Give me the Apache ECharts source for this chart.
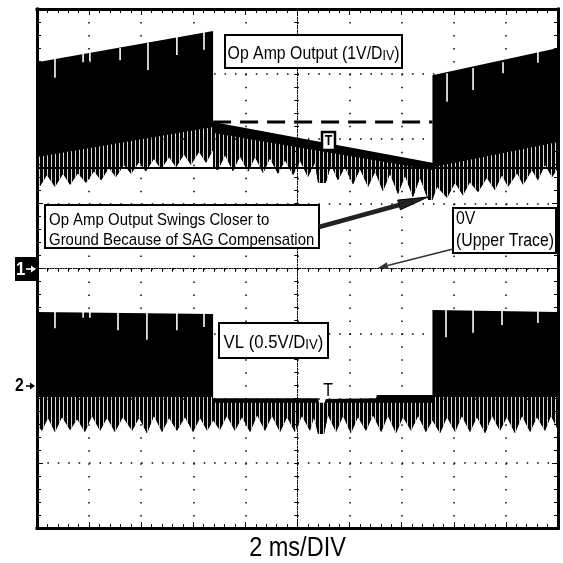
<!DOCTYPE html>
<html>
<head>
<meta charset="utf-8">
<script src="https://cdn.jsdelivr.net/npm/echarts@6/dist/echarts.min.js"></script>
<style>
html,body{margin:0;padding:0;background:#fff}
#scope{width:563px;height:563px}
</style>
</head>
<body>
<div id="scope"></div>
<script>
// time in ms from screen centre (2 ms/div), level in divisions from centre line
var timeMin = -10, timeMax = 10, timeStep = 2;
var levelMin = -4, levelMax = 4, levelStep = 1;

// upper trace: op amp output (1V/div), ch1 ground on centre line
var upperTop = [[-10.00, 3.18], [-3.24, 3.66], [-3.24, 2.26], [5.18, 1.63], [5.18, 2.98], [10.00, 3.40]];
var upperStripeTop = [[-10.00, 1.72], [-3.24, 2.18], [-3.24, 2.09], [5.18, 1.52], [5.18, 1.56], [10.00, 1.95]];
var upperBottom = [
    [-10.00, 1.36], [-9.88, 1.27], [-9.62, 1.44], [-9.31, 1.26], [-9.00, 1.46], [-8.73, 1.29], [-8.43, 1.47],
    [-8.12, 1.32], [-7.81, 1.50], [-7.54, 1.36], [-7.24, 1.55], [-6.97, 1.41], [-6.66, 1.60], [-6.39, 1.46],
    [-6.08, 1.64], [-5.82, 1.50], [-5.51, 1.69], [-5.24, 1.53], [-4.93, 1.72], [-4.66, 1.56], [-4.36, 1.76],
    [-4.09, 1.60], [-3.78, 1.80], [-3.51, 1.63], [-3.24, 1.83],
    [-3.24, 1.55], [-3.05, 1.52], [-2.78, 1.75], [-2.48, 1.50], [-2.21, 1.73], [-1.90, 1.49], [-1.63, 1.72],
    [-1.32, 1.47], [-1.06, 1.70], [-0.75, 1.46], [-0.48, 1.67], [-0.17, 1.44], [0.10, 1.66], [0.40, 1.41],
    [0.67, 1.63], [0.79, 1.32], [1.09, 1.32], [1.29, 1.60], [1.55, 1.36], [1.82, 1.56], [2.13, 1.30],
    [2.40, 1.53], [2.71, 1.26], [2.98, 1.49], [3.28, 1.19], [3.55, 1.46], [3.86, 1.15], [4.13, 1.43],
    [4.43, 1.10], [4.70, 1.40], [5.01, 1.06], [5.18, 1.06],
    [5.36, 1.26], [5.74, 1.09], [6.05, 1.32], [6.35, 1.13], [6.62, 1.33], [6.93, 1.18], [7.27, 1.40],
    [7.58, 1.21], [7.85, 1.44], [8.08, 1.26], [8.43, 1.47], [8.66, 1.29], [9.00, 1.52], [9.23, 1.36],
    [9.50, 1.60], [9.77, 1.41], [10.00, 1.55]
];
// short dropouts hanging from the top edge: [time, from, to]
var upperDropouts = [[-9.31, 3.24, 2.94], [-8.23, 3.33, 3.18], [-7.97, 3.35, 3.18], [-6.81, 3.40, 3.21],
    [-5.74, 3.48, 3.06], [-4.63, 3.57, 3.29], [-3.59, 3.65, 3.37],
    [5.74, 3.01, 2.57], [6.74, 3.09, 2.75], [7.89, 3.18, 3.01], [9.23, 3.34, 3.17]];

// lower trace: VL (0.5V/div), ch2 marker at -1.83 div
var lowerTop = [[-10.00, -0.67], [-3.24, -0.70], [-3.24, -2.00], [0.79, -2.00], [0.90, -2.21], [1.09, -2.01],
    [3.01, -2.00], [3.05, -1.95], [5.18, -1.95], [5.18, -0.64], [10.00, -0.67]];
var lowerStripeTop = [[-10.00, -1.98], [-3.24, -1.98], [-3.24, -2.07], [5.18, -2.07], [5.18, -1.98], [10.00, -1.98]];
var lowerBottom = [
    [-10.00, -2.41], [-9.81, -2.50], [-9.58, -2.30], [-9.31, -2.52], [-9.04, -2.29], [-8.73, -2.49], [-8.46, -2.32],
    [-8.16, -2.52], [-7.89, -2.27], [-7.58, -2.50], [-7.31, -2.30], [-7.01, -2.52], [-6.70, -2.29], [-6.35, -2.50],
    [-6.08, -2.30], [-5.78, -2.54], [-5.51, -2.27], [-5.20, -2.52], [-4.93, -2.30], [-4.63, -2.50], [-4.32, -2.29],
    [-4.01, -2.52], [-3.74, -2.30], [-3.47, -2.50], [-3.24, -2.34],
    [-2.98, -2.49], [-2.71, -2.27], [-2.40, -2.50], [-2.13, -2.29], [-1.82, -2.52], [-1.55, -2.26], [-1.25, -2.50],
    [-0.98, -2.27], [-0.67, -2.52], [-0.40, -2.29], [-0.10, -2.52], [0.17, -2.27], [0.48, -2.50], [0.63, -2.29],
    [0.79, -2.55], [1.02, -2.55], [1.17, -2.26], [1.48, -2.52], [1.75, -2.27], [2.05, -2.54], [2.32, -2.29],
    [2.63, -2.50], [2.90, -2.26], [3.21, -2.52], [3.47, -2.27], [3.78, -2.54], [4.05, -2.29], [4.36, -2.50],
    [4.63, -2.27], [4.93, -2.52], [5.18, -2.34],
    [5.47, -2.54], [5.74, -2.29], [6.05, -2.52], [6.31, -2.27], [6.62, -2.52], [6.89, -2.29], [7.20, -2.54],
    [7.47, -2.27], [7.77, -2.50], [8.04, -2.29], [8.35, -2.54], [8.62, -2.27], [8.93, -2.52], [9.19, -2.29],
    [9.50, -2.50], [9.73, -2.27], [10.00, -2.49]
];
var lowerDropouts = [[-9.31, -0.67, -0.92], [-8.23, -0.67, -0.76], [-7.97, -0.67, -0.76], [-6.89, -0.67, -0.95],
    [-5.78, -0.68, -1.10], [-4.63, -0.68, -0.95], [-3.59, -0.69, -0.90],
    [5.70, -0.64, -1.06], [6.74, -0.64, -0.99], [7.85, -0.64, -0.87], [9.23, -0.66, -0.84]];

// reference lines drawn on the upper trace
var dashedRef = [[-3.24, 2.26], [5.18, 2.26]];
var solidRef = 1.56;

var face = '"Liberation Sans",Arial,sans-serif';
var squeeze = 0.88;   // the scope font is a condensed sans

// fine vertical stripes for the switching ripple
var stripe = document.createElement('canvas');
stripe.width = 4; stripe.height = 4;
var sctx = stripe.getContext('2d');
sctx.fillStyle = '#000'; sctx.fillRect(0, 0, 4, 4);
sctx.fillStyle = '#d8d8d8'; sctx.fillRect(3, 0, 1, 4);

function band(top, bottom, fill) {
    return function (params, api) {
        var pts = top.map(function (p) { return api.coord(p); });
        for (var i = bottom.length - 1; i >= 0; i--) pts.push(api.coord(bottom[i]));
        return { type: 'polygon', shape: { points: pts }, style: { fill: fill } };
    };
}
function dropout(params, api) {
    var a = api.coord([api.value(0), api.value(1)]);
    var b = api.coord([api.value(0), api.value(2)]);
    return { type: 'line', shape: { x1: a[0], y1: a[1], x2: b[0], y2: b[1] }, style: { stroke: '#fff', lineWidth: 1.6 } };
}

function centreX(tickInside) {
    return {
        type: 'value', min: timeMin, max: timeMax, interval: timeStep, z: 3,
        axisLine: { show: true, onZero: true, lineStyle: { color: '#000', width: 1, type: [1, 1.6] } },
        axisTick: { show: true, inside: tickInside, length: 3, lineStyle: { color: '#000' } },
        minorTick: { show: true, splitNumber: 5, length: 3, lineStyle: { color: '#000' } },
        axisLabel: { show: false },
        splitLine: { show: false }
    };
}
function centreY(tickInside) {
    return {
        type: 'value', min: levelMin, max: levelMax, interval: levelStep, z: 3,
        axisLine: { show: true, onZero: true, lineStyle: { color: '#000', width: 1, type: [1, 1.6] } },
        axisTick: { show: true, inside: tickInside, length: 3, lineStyle: { color: '#000' } },
        minorTick: { show: true, splitNumber: 5, length: 3, lineStyle: { color: '#000' } },
        axisLabel: { show: false },
        splitLine: { show: false }
    };
}
function frameAxis(isX, pos) {
    return {
        type: 'value', position: pos, z: 6,
        min: isX ? timeMin : levelMin, max: isX ? timeMax : levelMax, interval: isX ? timeStep : levelStep,
        axisLine: { show: true, onZero: false, lineStyle: { color: '#000', width: 3, cap: 'square' } },
        axisTick: { show: true, inside: true, length: 6, lineStyle: { color: '#000' } },
        minorTick: { show: true, splitNumber: 5, length: 4, lineStyle: { color: '#000' } },
        axisLabel: { show: false },
        splitLine: { show: false }
    };
}

var xMain = centreX(false);
xMain.splitLine = { show: true, lineStyle: { color: '#000', width: 1.5, type: [1.5, 11.475] } };
var yMain = centreY(false);
yMain.splitLine = { show: true, lineStyle: { color: '#000', width: 1.5, type: [1.5, 8.92] } };

function label(txt, x, y, size, align, extra) {
    var st = { text: txt, x: 0, y: 0, fill: '#000', fontSize: size, fontFamily: face,
        textAlign: align || 'left', textVerticalAlign: 'middle' };
    for (var k in extra || {}) st[k] = extra[k];
    return { type: 'text', z: 11, x: x, y: y, scaleX: squeeze, style: st };
}
function smallCaps(pre, size) {
    return {
        text: '{a|' + pre + 'D}{b|IV}{a|)}',
        rich: { a: { fontSize: size, fontFamily: face, color: '#000', lineHeight: size + 4, verticalAlign: 'bottom' },
                b: { fontSize: size - 4, fontFamily: face, color: '#000', lineHeight: size + 8, verticalAlign: 'bottom' } }
    };
}
function box(x, y, w, h) {
    return { type: 'rect', z: 10, shape: { x: x, y: y, width: w, height: h }, style: { fill: '#fff', stroke: '#000', lineWidth: 2 } };
}
function pointer(x1, x2, y, colour) {
    return [
        { type: 'line', z: 12, shape: { x1: x1, y1: y, x2: x2 - 4, y2: y }, style: { stroke: colour, lineWidth: 1.6 } },
        { type: 'polygon', z: 12, shape: { points: [[x2, y], [x2 - 5, y - 3.5], [x2 - 5, y + 3.5]] }, style: { fill: colour } }
    ];
}

var graphics = [
    // channel markers
    { type: 'rect', shape: { x: 15, y: 257, width: 22, height: 24 }, style: { fill: '#000' }, z: 10 },
    label('1', 16, 270, 19, 'left', { fill: '#fff', fontWeight: 'bold' }),
    label('2', 15, 386, 18, 'left', { fontWeight: 'bold' }),
    // trigger marks
    { type: 'rect', z: 10, shape: { x: 322, y: 132, width: 13, height: 18 }, style: { fill: '#fff', stroke: '#000', lineWidth: 2.5 } },
    label('T', 328.5, 141.5, 14, 'center', { fontWeight: 'bold' }),
    label('T', 328, 391, 18, 'center'),
    // annotation boxes
    box(225, 35, 177, 33),
    { type: 'text', z: 11, x: 313.5, y: 50, scaleX: squeeze, style: (function () {
        var s = smallCaps('Op Amp Output (1V/', 18); s.x = 0; s.y = 0; s.textAlign = 'center'; s.textVerticalAlign = 'middle'; return s; })() },
    box(45, 205, 274, 43),
    label('Op Amp Output Swings Closer to', 49, 220, 17),
    label('Ground Because of SAG Compensation', 49, 240, 17),
    box(453, 208, 103, 45),
    label('0V', 456, 219, 18),
    label('(Upper Trace)', 456, 241, 18),
    box(219, 323, 109, 35),
    { type: 'text', z: 11, x: 273.5, y: 339, scaleX: squeeze, style: (function () {
        var s = smallCaps('VL (0.5V/', 19); s.x = 0; s.y = 0; s.textAlign = 'center'; s.textVerticalAlign = 'middle'; return s; })() },
    // arrows
    { type: 'line', z: 12, shape: { x1: 319, y1: 227, x2: 399, y2: 205 }, style: { stroke: '#222', lineWidth: 4.5 } },
    { type: 'polygon', z: 12, shape: { points: [[428, 197], [400.4, 209.8], [397.7, 200.1]] }, style: { fill: '#222', stroke: '#000', lineWidth: 1 } },
    { type: 'line', z: 12, shape: { x1: 453, y1: 249, x2: 387.7, y2: 265.5 }, style: { stroke: '#333', lineWidth: 1.5 } },
    { type: 'polygon', z: 12, shape: { points: [[378, 268], [388.6, 268.9], [386.8, 262.2]] }, style: { fill: '#333' } },
    // time base
    { type: 'text', z: 11, x: 297.5, y: 548, scaleX: 0.84, style: { text: '2 ms/DIV', x: 0, y: 0, fill: '#000',
        fontSize: 28, fontFamily: face, textAlign: 'center', textVerticalAlign: 'middle' } }
].concat(pointer(26, 36, 269, '#fff'), pointer(26, 35, 386, '#000'));

var scope = echarts.init(document.getElementById('scope'));
var option = {
    animation: false,
    backgroundColor: '#fff',
    grid: { left: 37, top: 9, right: 5, bottom: 35, outerBoundsMode: 'none', containLabel: false },
    xAxis: [xMain, centreX(true), frameAxis(true, 'bottom'), frameAxis(true, 'top')],
    yAxis: [yMain, centreY(true), frameAxis(false, 'left'), frameAxis(false, 'right')],
    series: [
        { type: 'custom', silent: true, z: 2, data: [[0, 0]], renderItem: band(upperTop, upperBottom, '#000') },
        { type: 'custom', silent: true, z: 2, data: [[0, 0]], renderItem: band(upperStripeTop, upperBottom, { image: stripe, repeat: 'repeat' }) },
        { type: 'custom', silent: true, z: 2, data: upperDropouts, renderItem: dropout },
        { type: 'custom', silent: true, z: 2, data: [[0, 0]], renderItem: band(lowerTop, lowerBottom, '#000') },
        { type: 'custom', silent: true, z: 2, data: [[0, 0]], renderItem: band(lowerStripeTop, lowerBottom, { image: stripe, repeat: 'repeat' }) },
        { type: 'custom', silent: true, z: 2, data: lowerDropouts, renderItem: dropout },
        {
            type: 'line', silent: true, z: 4, data: dashedRef, symbol: 'none',
            lineStyle: { color: '#000', width: 3, type: [18, 9] },
            markLine: {
                silent: true, symbol: 'none', label: { show: false },
                lineStyle: { color: '#000', width: 2, type: 'solid' },
                data: [{ yAxis: solidRef }]
            }
        }
    ],
    graphic: graphics
};
scope.setOption(option);
</script>
</body>
</html>
